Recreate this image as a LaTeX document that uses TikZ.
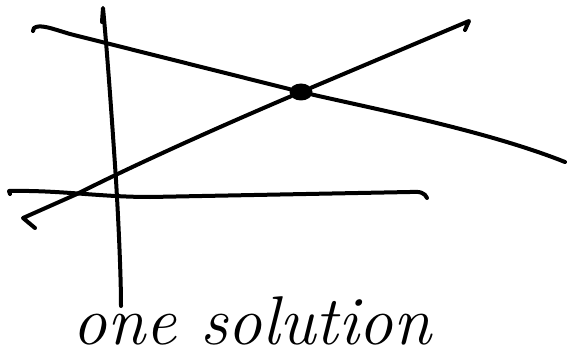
\documentclass[tikz,border=0pt]{standalone}
\usetikzlibrary{shapes.geometric}
\begin{document}
\begin{tikzpicture}[x=1pt,y=-1pt,
  stroke/.style={line width=4pt,line cap=round,line join=round,black},
  soldot/.style={ellipse,fill=black,minimum width=23pt,minimum height=17pt,inner sep=0pt},
  hand/.style={font=\fontsize{69}{69}\selectfont\itshape,inner sep=0pt}]
\useasboundingbox (0,0) rectangle (569,358);
% intersection dot
\node[soldot] (sol) at (301,92) {};
% coordinates
\coordinate (vtop) at (103,8);
\coordinate (vbot) at (121,306);
\coordinate (aL) at (34,28);
\coordinate (aR) at (565,162);
\coordinate (bL) at (23,218);
\coordinate (bR) at (469,21);
\coordinate (hL) at (9,191);
\coordinate (hR) at (427,198);
% vertical line
\draw[stroke] (102,22) -- (vtop) .. controls (108,60) and (114,150) .. (116,180) .. controls (119,230) and (121,280) .. (vbot);
% line falling to the right
\draw[stroke] (33,31) -- (aL) .. controls (40,24) and (50,28) .. (70,34) -- (sol) .. controls (380,110) and (490,132) .. (aR);
% line rising to the right
\draw[stroke] (35,228) -- (bL) -- (77,194) .. controls (120,172) and (200,135) .. (sol) -- (bR) -- (465,30);
% horizontal line
\draw[stroke] (10,194) -- (hL) .. controls (60,190) and (100,197) .. (150,197) -- (410,192) .. controls (420,191) and (425,193) .. (hR);
% text
\node[hand,anchor=base] (txt) at (252,344) {one solution};
\end{tikzpicture}
\end{document}
